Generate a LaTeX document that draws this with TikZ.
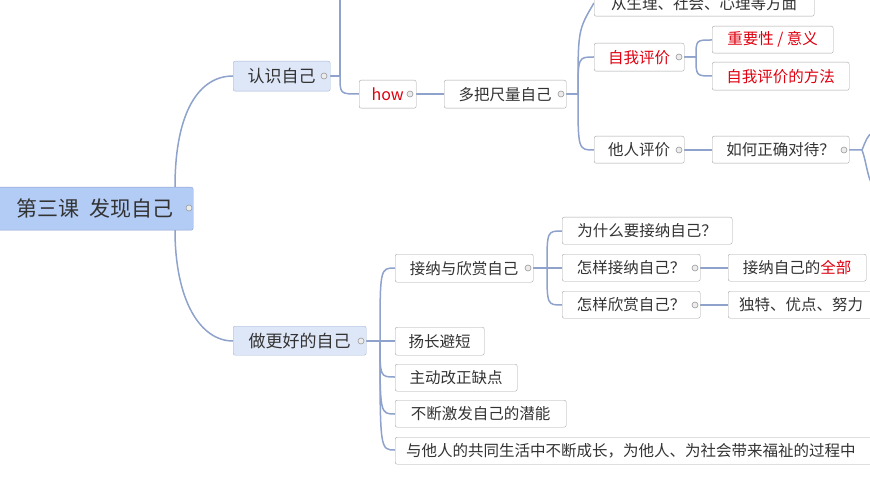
\documentclass[tikz,border=0pt]{standalone}
\usepackage{fontspec}
\setmainfont{Noto Sans CJK SC}
\definecolor{lnc}{HTML}{8EA2CC}
\definecolor{rootf}{HTML}{B3CCF5}
\definecolor{subf}{HTML}{DDE7F7}
\definecolor{rd}{HTML}{E00010}
\begin{document}
\begin{tikzpicture}[x=1pt,y=-1pt,
  box/.style={draw=black!35,fill=white,rounded corners=2pt,anchor=north west,inner sep=0pt,font=\fontsize{15.5}{15.5}\selectfont,text=black!80},
  sub/.style={box,fill=subf,draw=lnc!80,font=\fontsize{17}{17}\selectfont},
  rt/.style={box,fill=rootf,draw=lnc,font=\fontsize{21}{21}\selectfont},
  red/.style={text=rd},
  ln/.style={draw=lnc,line width=1.5pt},
  knob/.style={circle,draw=gray!80,fill=gray!15,line width=0.6pt,inner sep=0pt,minimum size=6pt}]
\useasboundingbox (0,0) rectangle (870,489);
\clip (0,0) rectangle (870,489);
% connectors first
\coordinate (rE) at (175,187);
\coordinate (rS) at (175,230);
\draw[ln] (rE) .. controls (175,110) and (200,76) .. (233,76);
\draw[ln] (rS) .. controls (175,300) and (200,341) .. (233,341);
\draw[ln] (330,76) -- (340,76) .. controls (340,60) .. (340,0);
\draw[ln] (330,76) -- (340,76) .. controls (340,94) .. (359,94);
\draw[ln] (416,94) -- (444,94);
\draw[ln] (566,94) -- (578,94) .. controls (578,30) .. (594,3);
\draw[ln] (566,94) -- (578,94) .. controls (578,57) .. (594,57);
\draw[ln] (566,94) -- (578,94) .. controls (578,150) .. (594,150);
\draw[ln] (684,57) -- (696,57) .. controls (696,40) .. (712,40);
\draw[ln] (684,57) -- (696,57) .. controls (696,76) .. (712,76);
\draw[ln] (684,150) -- (712,150);
\draw[ln] (849,150) -- (862,150) .. controls (866,140) and (868,135) .. (872,133);
\draw[ln] (862,150) .. controls (866,160) and (868,180) .. (872,183);
\draw[ln] (366,341) -- (380,341) .. controls (380,268) .. (395,268);
\draw[ln] (366,341) -- (395,341);
\draw[ln] (380,341) .. controls (380,377) .. (395,377);
\draw[ln] (380,341) .. controls (380,414) .. (395,414);
\draw[ln] (380,341) .. controls (380,450) .. (395,450);
\draw[ln] (533,268) -- (547,268) .. controls (547,231) .. (562,231);
\draw[ln] (533,268) -- (562,268);
\draw[ln] (547,268) .. controls (547,305) .. (562,305);
\draw[ln] (700,268) -- (728,268);
\draw[ln] (700,305) -- (728,305);
% nodes
\node[rt,minimum width=198,minimum height=43] (root) at (-5,187) {\makebox[184pt][l]{\hspace*{14pt}第三课\hspace{0.5em}发现自己}};
\node[sub,minimum width=97,minimum height=30] (rs) at (233,61) {认识自己};
\node[sub,minimum width=133,minimum height=29] (zg) at (233,326) {做更好的自己};
\node[box,minimum width=57,minimum height=28,red,font=\fontsize{16}{16}\selectfont] (how) at (359,80) {how};
\node[box,minimum width=122,minimum height=28] (dbc) at (444,80) {多把尺量自己};
\node[box,minimum width=220,minimum height=26] (cs) at (594,-10) {从生理、社会、心理等方面};
\node[box,minimum width=90,minimum height=28,red] (zw) at (594,43) {自我评价};
\node[box,minimum width=121,minimum height=27,red] (zy) at (712,26) {重要性 / 意义};
\node[box,minimum width=137,minimum height=28,red] (ff) at (712,62) {自我评价的方法};
\node[box,minimum width=90,minimum height=27] (tr) at (594,136) {他人评价};
\node[box,minimum width=137,minimum height=27] (rh) at (712,136) {如何正确对待？};
\node[box,minimum width=138,minimum height=28] (jn) at (395,254) {接纳与欣赏自己};
\node[box,minimum width=170,minimum height=27] (ws) at (562,217) {为什么要接纳自己？};
\node[box,minimum width=138,minimum height=27] (zj) at (562,254) {怎样接纳自己？};
\node[box,minimum width=138,minimum height=27] (zx) at (562,291) {怎样欣赏自己？};
\node[box,minimum width=138,minimum height=27] (qb) at (728,254) {接纳自己的\textcolor{rd}{全部}};
\node[box,minimum width=170,minimum height=27] (dt) at (728,291) {\makebox[170pt][l]{\hspace*{11pt}独特、优点、努力}};
\node[box,minimum width=89,minimum height=28] (yc) at (395,327) {扬长避短};
\node[box,minimum width=122,minimum height=27] (zd) at (395,364) {主动改正缺点};
\node[box,minimum width=171,minimum height=27] (bd) at (395,400) {不断激发自己的潜能};
\node[box,minimum width=520,minimum height=27] (yt) at (395,437) {\makebox[520pt][l]{\hspace*{11pt}与他人的共同生活中不断成长，为他人、为社会带来福祉的过程中}};
% knobs
\foreach \p in {(189,208),(324,76),(410,94),(561,94),(679,57),(679,150),(844,150),(361,341),(528,268),(695,268),(695,305)}
  \node[knob] at \p {};
\end{tikzpicture}
\end{document}
